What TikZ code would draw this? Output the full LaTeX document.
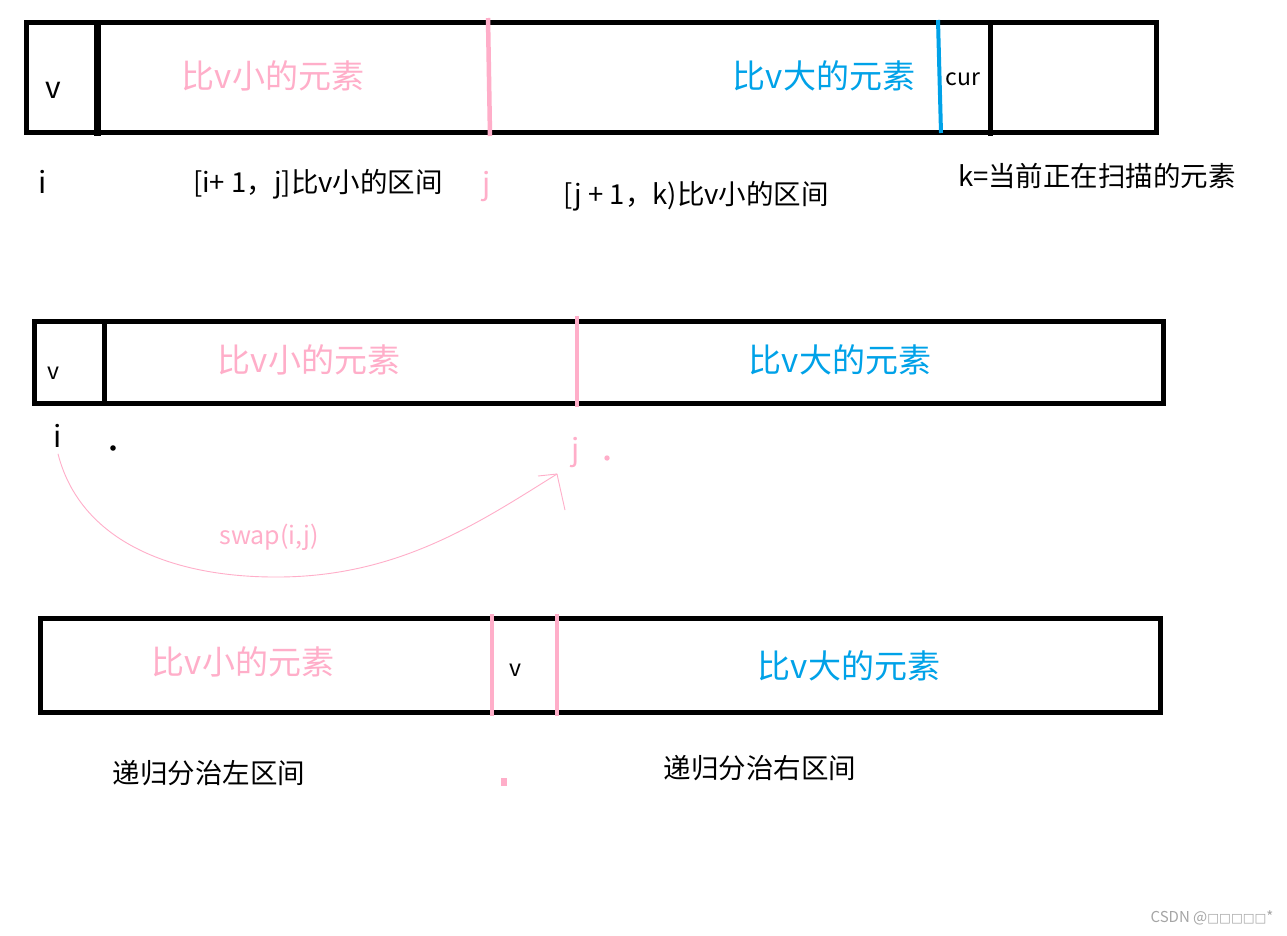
\documentclass[tikz,border=0pt]{standalone}
\usepackage{fontspec}
\setmainfont{Noto Sans CJK SC}
\newfontfamily\dejavu{DejaVu Sans}
\definecolor{ppink}{RGB}{255,174,201}
\definecolor{pblue}{RGB}{0,162,232}
\definecolor{wgray}{RGB}{165,165,165}
\tikzset{
  big/.style={inner sep=0pt, font=\fontsize{33}{38}\selectfont},
  lbl/.style={inner sep=0pt, font=\fontsize{27.5}{32}\selectfont},
  letter/.style={inner sep=0pt, font=\fontsize{30}{34}\selectfont},
  small/.style={inner sep=0pt, font=\fontsize{23}{27}\selectfont},
  swaplbl/.style={inner sep=0pt, font=\fontsize{25}{29}\selectfont, text=ppink},
  boxline/.style={line width=5pt, draw=black},
  pinkbar/.style={line width=4.5pt, draw=ppink},
  bluebar/.style={line width=4pt, draw=pblue},
  swaparrow/.style={draw=ppink, line width=0.9pt},
}
\begin{document}
\begin{tikzpicture}[x=1pt,y=-1pt]
\useasboundingbox[fill=white] (0,0) rectangle (1287,935);

% ---------- top row ----------
\draw[boxline] (26,22) rectangle (1156,132);
\draw[line width=7pt] (97,20) -- (97,136);
\draw[pinkbar] (488,18) -- (490,136);
\draw[bluebar] (938,20) -- (941,133);
\draw[boxline] (990,22) -- (990,136);

\node[letter] (v1) at (53,90) {v};
\node[big, text=ppink] (s1) at (273,76) {比v小的元素};
\node[big, text=pblue] (b1) at (824,76) {比v大的元素};
\node[small] (cur) at (963,79) {cur};
\node[letter] (i1) at (43,182) {i};
\node[lbl] (r1) at (318,184) {[i+ 1，j]比v小的区间};
\node[letter, text=ppink] (j1) at (487,186) {j};
\node[lbl] (r2) at (696,196) {[j + 1，k)比v小的区间};
\node[lbl] (k1) at (1097,176) {k=当前正在扫描的元素};

% ---------- middle row ----------
\draw[boxline] (34,321) rectangle (1163,403);
\draw[boxline] (104,319) -- (104,404);
\draw[pinkbar] (577,316) -- (577,407);

\node[small] (v2) at (53,373) {v};
\node[big, text=ppink] (s2) at (309,360) {比v小的元素};
\node[big, text=pblue] (b2) at (840,360) {比v大的元素};
\node[letter] (i2) at (58,436) {i};
\fill (113,448) circle (2.8);
\node[letter, text=ppink] (j2) at (576,452) {j};
\fill[ppink] (607,458) circle (2.7);

\coordinate (tip) at (557,474);
\draw[swaparrow] (i2.south) ++(0,6) .. controls (80,540) and (170,578) .. (280,577)
      .. controls (400,576) and (480,522) .. (tip);
\draw[swaparrow] (tip) -- (538,476);
\draw[swaparrow] (tip) -- (565,510);
\node[swaplbl] (sw) at (269,537) {swap(i,j)};

% ---------- bottom row ----------
\draw[boxline] (40,618) rectangle (1160,712);
\draw[pinkbar] (492,614) -- (492,716);
\draw[pinkbar] (557,614) -- (557,716);

\node[big, text=ppink] (s3) at (243,662) {比v小的元素};
\node[small] (v3) at (515,670) {v};
\node[big, text=pblue] (b3) at (849,666) {比v大的元素};
\node[lbl] (l3) at (209,773) {递归分治左区间};
\node[lbl] (r3) at (760,768) {递归分治右区间};
\fill[ppink] (501,778) rectangle (507,786);

% ---------- watermark ----------
\node[inner sep=0pt, text=wgray, font=\fontsize{15}{18}\selectfont] (wm) at (1212,918)
  {CSDN @{\dejavu\fontsize{12.5}{14}\selectfont □□□□□}*};
\end{tikzpicture}
\end{document}
